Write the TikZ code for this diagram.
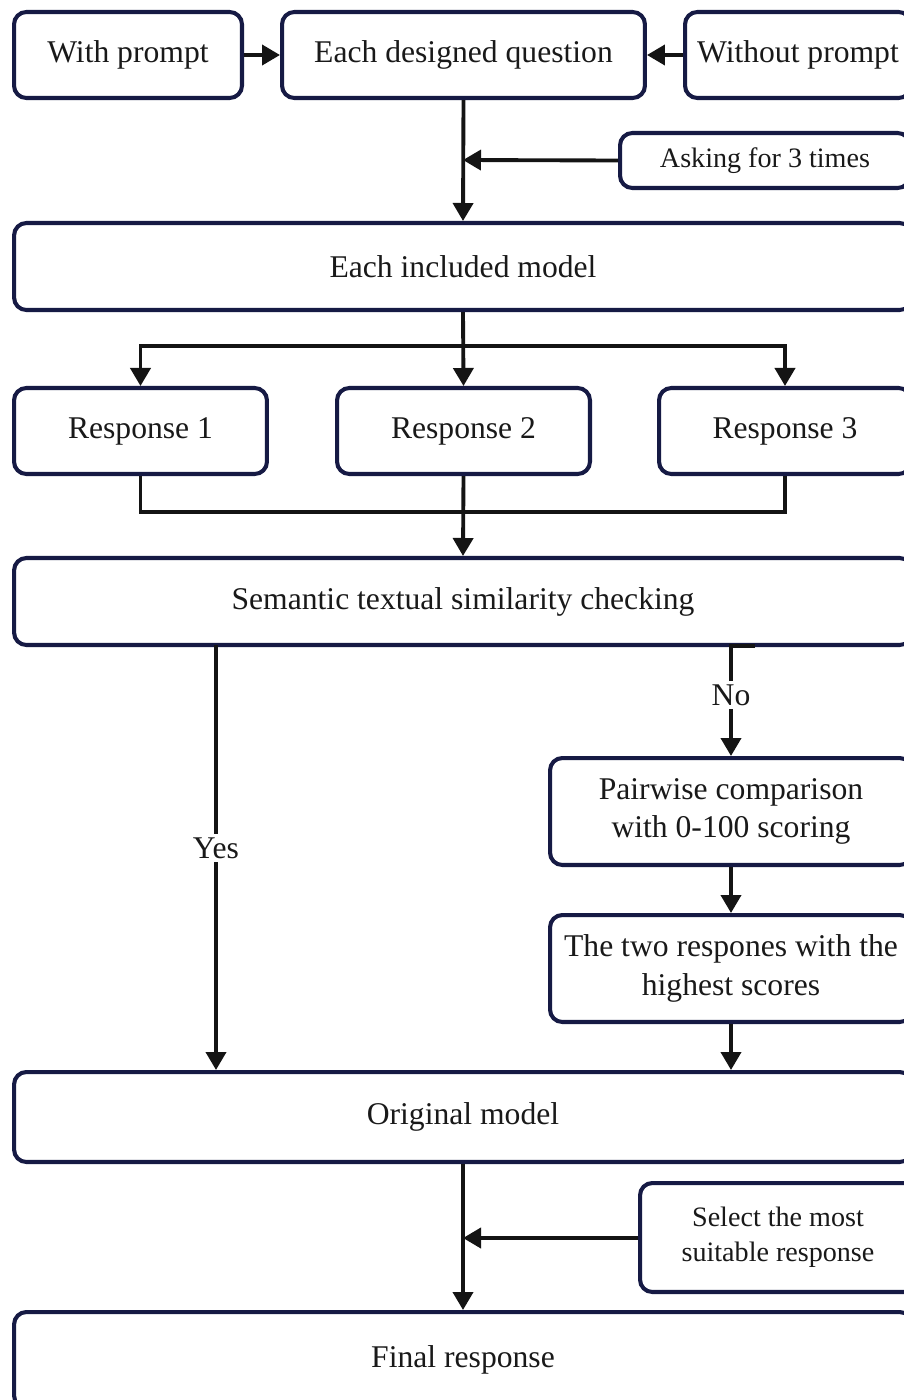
\documentclass[tikz,border=0pt]{standalone}
\usepackage{fontspec}
\setmainfont{Liberation Serif}
\usetikzlibrary{arrows.meta, positioning, calc}
\definecolor{boxline}{RGB}{22, 26, 68}
\definecolor{arrline}{RGB}{20, 20, 20}

\begin{document}
\begin{tikzpicture}[x=0.02cm, y=-0.02cm,
    blk/.style={rectangle, rounded corners=7pt, draw=boxline, line width=2.3pt, fill=white,
                align=center, text=black!90, font=\fontsize{18}{22}\selectfont, inner sep=0pt},
    small/.style={blk, font=\fontsize{16}{20}\selectfont},
    arr/.style={-{Triangle[length=0.36cm, width=0.4cm]}, line width=2.2pt, draw=arrline},
    ln/.style={line width=2.2pt, draw=arrline},
    lbl/.style={fill=white, inner sep=2pt, text=black!90, font=\fontsize{18}{22}\selectfont}]

    \fill[white] (0,0) rectangle (903,1400);
    \useasboundingbox (0,0) rectangle (903,1400);

    % Inputs
    \node[blk, minimum width=4.56cm, minimum height=1.72cm] (wp) at (128,55) {With prompt};
    \node[blk, minimum width=7.26cm, minimum height=1.72cm] (edq) at (463.5,55) {Each designed question};
    \node[blk, minimum width=4.52cm, minimum height=1.72cm] (wop) at (798,55) {Without prompt};
    \node[small, minimum width=5.8cm, minimum height=1.1cm] (ask) at (765,160.5) {Asking for 3 times};

    % Models and responses
    \node[blk, minimum width=17.96cm, minimum height=1.74cm] (eim) at (463,266.5) {Each included model};
    \node[blk, minimum width=5.06cm, minimum height=1.72cm] (r1) at (140.5,431) {Response 1};
    \node[blk, minimum width=5.06cm, minimum height=1.72cm] (r2) at (463.5,431) {Response 2};
    \node[blk, minimum width=5.04cm, minimum height=1.72cm] (r3) at (785,431) {Response 3};

    % Checking
    \node[blk, minimum width=17.96cm, minimum height=1.74cm] (stc) at (463,601.5) {Semantic textual similarity checking};
    \node[blk, minimum width=7.24cm, minimum height=2.14cm] (pw) at (731,811.5) {Pairwise comparison\\with 0-100 scoring};
    \node[blk, minimum width=7.24cm, minimum height=2.14cm] (two) at (731,968.5) {The two respones with the\\highest scores};

    % Output
    \node[blk, minimum width=17.96cm, minimum height=1.8cm] (om) at (463,1117) {Original model};
    \node[small, minimum width=5.52cm, minimum height=2.18cm] (sel) at (778,1237.5) {Select the most\\suitable response};
    \node[blk, minimum width=17.96cm, minimum height=1.92cm] (fin) at (463,1360) {Final response};

    % Helper points
    \coordinate (askin) at (463,160);
    \coordinate (split) at (463,346);
    \coordinate (merge) at (463,512);
    \coordinate (yestop) at (216,645);
    \coordinate (notop) at (755,646);
    \coordinate (selin) at (463,1238);

    % Arrows showing flow
    \draw[arr] (wp) -- (edq);
    \draw[arr] (wop) -- (edq);
    \draw[arr] (edq.south) -- (eim.north);
    \draw[arr] (ask.west) -- (askin);
    \draw[arr] (eim.south) -- (r2.north);
    \draw[arr] (split) -| (r1.north);
    \draw[arr] (split) -| (r3.north);
    \draw[ln] (r1.south) |- (merge) -| (r3.south);
    \draw[arr] (r2.south) -- (stc.north);
    \draw[arr] (yestop) -- (yestop |- om.north);
    \node[lbl] (yes) at (216,848) {Yes};
    \draw[arr] (notop) -- (notop -| pw.north) -- (pw.north);
    \node[lbl] (no) at (731,695) {No};
    \draw[arr] (pw.south) -- (two.north);
    \draw[arr] (two.south) -- (two.south |- om.north);
    \draw[arr] (om.south) -- (fin.north);
    \draw[arr] (sel.west |- selin) -- (selin);
\end{tikzpicture}
\end{document}
